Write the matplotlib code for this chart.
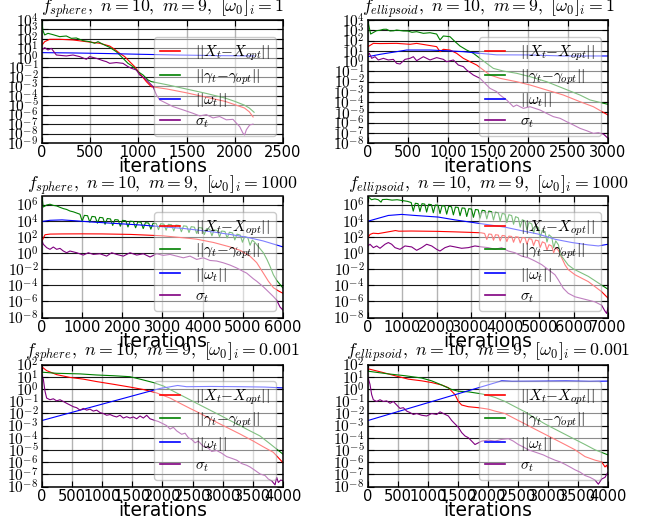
import numpy as np
import matplotlib
matplotlib.use("Agg")
import matplotlib.pyplot as plt
from matplotlib.ticker import LogLocator, NullLocator, FixedLocator, FuncFormatter

plt.rcParams['mathtext.fontset'] = 'cm'
plt.rcParams['font.family'] = ['DejaVu Sans']

# ---------------- data: (iteration, log10 value) ----------------
# Panel 1: f_sphere, [w0]_i = 1
p1_err_x = [(0,1.36),(28,1.71),(80,1.96),(183,1.96),(322,1.89),(460,1.71),(598,1.54),(702,1.25),(754,0.9),
            (806,0.48),(858,0.13),(909,-0.4),(961,-0.93),(1013,-1.63),(1082,-2.51),(1134,-3.05),(1200,-3.15),
            (1300,-3.3),(1500,-3.7),(1700,-4.15),(1900,-4.6),(2000,-4.95),(2100,-5.3),(2150,-5.7),(2190,-6.25)]
p1_err_g = [(0,3.72),(10,2.87),(28,2.42),(62,2.59),(114,2.45),(183,2.24),(252,2.31),(304,2.06),(356,2.1),
            (425,1.82),(494,1.71),(546,1.54),(581,1.71),(633,1.43),(702,1.11),(771,0.65),(823,0.13),(858,-0.23),
            (892,-0.58),(944,-0.93),(996,-1.46),(1048,-1.81),(1100,-2.34),(1134,-2.51),(1300,-2.85),(1500,-3.3),
            (1700,-3.75),(1900,-4.25),(2000,-4.6),(2100,-5.0),(2150,-5.3),(2200,-5.75)]
p1_omega = [(0,0.55),(300,0.52),(700,0.45),(1000,0.38),(1400,0.3),(1800,0.24),(2200,0.2)]
p1_sigma = [(0,0.83),(28,1.08),(62,0.83),(97,1.0),(149,0.3),(252,0.2),(322,0.3),(391,0.13),(460,-0.15),
            (494,0.13),(564,-0.05),(633,-0.3),(667,-0.4),(702,-0.58),(771,-0.5),(840,-0.58),(892,-0.93),
            (927,-1.1),(979,-1.28),(1013,-1.8),(1065,-2.16),(1100,-2.5),(1152,-3.04),(1186,-3.9),(1221,-4.45),
            (1290,-4.8),(1359,-5.15),(1463,-5.5),(1566,-5.86),(1636,-6.14),(1705,-6.0),(1774,-6.35),(1843,-6.2),
            (1912,-6.55),(1981,-6.5),(2016,-6.9),(2051,-7.27),(2085,-7.97),(2102,-8.15),(2120,-7.6),(2154,-7.1),
            (2189,-7.0)]

# Panel 2: f_ellipsoid, [w0]_i = 1
p2_err_x = [(0,1.4),(67,1.72),(150,1.7),(358,1.72),(525,1.63),(608,1.72),(733,1.56),(858,1.4),(900,0.91),
            (942,1.14),(1025,1.07),(1108,0.75),(1192,0.26),(1275,-0.07),(1358,-0.39),(1442,-0.88),(1525,-1.37),
            (1650,-1.69),(1858,-2.02),(2025,-2.34),(2233,-2.83),(2442,-3.32),(2650,-3.97),(2817,-4.46),(3000,-5.27)]
p2_err_g = [(0,3.84),(33,2.63),(108,2.96),(150,3.0),(192,3.09),(230,3.1),(275,2.93),(320,2.95),(358,3.02),
            (442,2.93),(500,2.92),(550,2.8),(608,2.86),(692,2.7),(775,2.76),(858,2.63),(900,2.05),(942,2.44),
            (1025,2.37),(1088,1.89),(1150,1.46),(1233,1.07),(1317,0.75),(1400,0.26),(1483,-0.23),(1567,-0.72),
            (1692,-0.98),(1858,-1.2),(2025,-1.53),(2233,-2.02),(2442,-2.67),(2650,-3.32),(2775,-3.8),(3000,-4.23)]
p2_omega = [(0,0.42),(150,0.65),(358,0.91),(483,1.07),(775,1.07),(983,1.0),(1192,0.91),(1400,0.75),
            (1608,0.6),(2025,0.59),(2442,0.49),(3000,0.49)]
p2_sigma = [(0,0.59),(17,0.75),(46,0.26),(88,0.42),(129,0.1),(192,0.26),(254,0.1),(317,0.16),(358,-0.23),
            (400,-0.29),(463,0.16),(525,0.26),(567,0.42),(608,0.03),(692,0.42),(775,0.1),(858,0.33),(942,0.16),
            (983,-0.07),(1067,0.1),(1129,-0.39),(1192,-0.55),(1233,-0.88),(1317,-1.37),(1400,-1.69),(1483,-2.34),
            (1525,-2.67),(1608,-2.99),(1650,-3.32),(1733,-3.8),(1817,-4.46),(1858,-4.29),(1942,-4.62),(2025,-4.46),
            (2150,-4.78),(2233,-5.11),(2317,-5.43),(2400,-5.59),(2483,-5.92),(2567,-6.24),(2650,-6.57),(2733,-6.8),
            (2817,-7.06),(2879,-6.99),(2942,-7.12),(3000,-7.54)]

# Panel 3: f_sphere, [w0]_i = 1000
p3_err_x = [(0,1.5),(40,1.9),(75,2.26),(200,2.34),(500,2.36),(1000,2.37),(1500,2.36),(2200,2.3),(3000,2.13),
            (3440,1.92),(3850,1.71),(4270,1.3),(4680,0.75),(4930,0.33),(5180,-0.4),(5345,-1.2),(5511,-2.5),
            (5636,-3.5),(5760,-4.3),(5885,-4.7),(6000,-5.0)]
p3_err_g = [(0,6.9),(33,5.7),(120,5.95),(200,6.04),(280,5.9),(365,5.83),(450,5.65),(531,5.5),(610,5.4),
            (697,5.2),(780,5.1),(863,4.95),(946,4.8),
            (1000,3.95),(1055,4.66),(1135,4.62),(1190,3.82),(1245,4.53),(1325,4.48),(1380,3.69),(1435,4.41),
            (1515,4.36),(1570,3.55),(1625,4.27),(1705,4.22),(1760,3.41),(1815,4.13),(1895,4.1),(1950,3.31),
            (2005,4.04),(2085,4.0),(2140,3.22),(2195,3.94),(2275,3.9),(2330,3.12),(2385,3.85),(2465,3.81),
            (2520,3.02),(2575,3.75),(2655,3.71),(2710,2.95),(2765,3.68),(2845,3.65),(2900,2.89),(2955,3.62),
            (3035,3.58),(3090,2.82),(3145,3.55),(3225,3.5),(3280,2.73),(3335,3.46),(3415,3.41),(3470,2.63),
            (3525,3.36),(3605,3.31),(3660,2.53),(3715,3.26),(3795,3.2),(3850,2.43),(3905,3.15),(3985,3.1),
            (4040,2.28),(4095,3.0),(4175,2.94),(4230,2.13),(4285,2.85),(4365,2.8),(4420,2.0),(4475,2.72),
            (4555,2.66),(4610,1.85),(4665,2.57),(4745,2.48),(4800,1.62),(4855,2.33),(4935,2.22),(4990,1.33),
            (5045,2.02),(5125,1.88),(5180,0.95),(5235,1.6),(5300,1.3),(5400,0.7),(5511,0.03),(5600,-0.8),
            (5677,-1.65),(5760,-2.7),(5843,-3.4),(5926,-3.9),(6000,-4.35)]
p3_omega = [(0,3.9),(200,4.05),(500,4.1),(800,4.0),(1200,3.85),(1700,3.7),(2500,3.45),(3000,3.25),
            (3500,3.05),(3850,2.85),(4270,2.6),(4680,2.3),(5100,1.95),(5500,1.5),(5800,1.05),(6000,0.75)]
p3_sigma = [(0,1.5),(33,1.08),(75,0.87),(116,0.66),(199,0.45),(282,0.74),(365,0.45),(448,0.57),(531,0.24),
            (614,0.03),(697,0.24),(863,0.03),(1029,-0.26),(1154,0.03),(1278,-0.18),(1444,-0.1),(1610,-0.39),
            (1735,0.03),(1859,-0.18),(2025,-0.39),(2191,0.03),(2357,-0.26),(2523,-0.1),(2689,-0.5),(2855,-0.1),
            (3021,-0.3),(3187,-0.18),(3353,-0.39),(3519,-0.6),(3685,-0.39),(3851,-0.8),(4017,-0.6),(4183,-0.93),
            (4349,-1.0),(4515,-1.22),(4681,-1.5),(4847,-1.86),(5013,-2.3),(5096,-2.5),(5262,-3.2),(5345,-3.5),
            (5511,-4.2),(5636,-4.8),(5760,-5.4),(5843,-5.85),(5926,-6.7),(6000,-7.1)]

# Panel 4: f_ellipsoid, [w0]_i = 1000
p4_err_x = [(0,1.92),(60,2.3),(150,2.45),(300,2.4),(500,2.55),(700,2.7),(800,2.78),(900,2.7),(1265,2.72),
            (2000,2.68),(2500,2.62),(3000,2.55),(3300,2.5),(3400,2.42),
            (3465,1.67),(3525,2.35),(3605,2.31),(3660,1.58),(3720,2.26),(3800,2.22),(3855,1.49),(3915,2.17),
            (3995,2.13),(4050,1.41),(4110,2.09),(4190,2.05),(4245,1.33),(4305,2.01),(4385,1.97),(4440,1.24),
            (4500,1.92),(4580,1.86),(4635,1.1),(4695,1.78),(4775,1.7),(4830,0.92),(4890,1.6),(4970,1.5),
            (5025,0.7),(5085,1.38),(5165,1.22),(5220,0.37),(5280,1.03),(5360,0.85),(5415,0.02),(5475,0.68),
            (5555,0.3),(5650,-0.6),(5750,-1.5),(5841,-2.07),(6036,-2.7),(6425,-3.55),(6814,-4.8),(7000,-5.6)]
p4_err_g = [(0,6.75),(40,6.85),(100,6.6),(200,6.7),(300,6.6),(380,6.3),(420,6.62),(550,6.65),(700,6.55),
            (850,6.6),(1000,6.5),(1150,6.4),(1260,6.25),
            (1320,5.19),(1380,6.16),(1460,6.11),(1515,5.14),(1575,6.11),(1655,6.06),(1710,5.07),(1770,6.04),
            (1850,5.99),(1905,4.98),(1965,5.95),(2045,5.9),(2100,4.89),(2160,5.86),(2240,5.81),(2295,4.81),
            (2355,5.78),(2435,5.73),(2490,4.72),(2550,5.69),(2630,5.64),(2685,4.62),(2745,5.59),(2825,5.54),
            (2880,4.52),(2940,5.49),(3020,5.44),(3075,4.42),(3135,5.39),(3215,5.34),(3270,4.32),(3330,5.29),
            (3410,5.24),(3465,4.22),(3525,5.19),(3605,5.12),(3660,4.08),(3720,5.05),(3800,4.97),(3855,3.93),
            (3915,4.9),(3995,4.82),(4050,3.77),(4110,4.74),(4190,4.64),(4245,3.56),(4305,4.5),(4385,4.35),
            (4440,3.2),(4500,4.12),(4580,3.97),(4635,2.85),(4695,3.78),(4775,3.6),(4830,2.45),(4890,3.38),
            (4970,3.15),(5025,1.92),(5085,2.85),(5165,2.6),(5220,1.35),(5280,2.25),(5360,1.95),(5415,0.65),
            (5475,1.5),(5555,1.0),(5610,-0.2),(5700,-0.7),(5841,-1.5),(6000,-2.0),(6425,-2.9),(7000,-4.5)]
p4_omega = [(0,3.94),(593,4.65),(982,4.78),(1371,4.65),(2051,4.45),(2537,4.1),(3023,3.8),(3509,3.5),
            (3995,3.2),(4481,2.76),(4967,2.34),(5453,1.7),(5939,1.3),(6425,1.0),(6717,0.87),(7000,1.08)]
p4_sigma = [(0,0.87),(58,1.08),(156,0.66),(253,0.87),(350,0.58),(496,1.08),(593,1.29),(690,1.08),(787,0.66),
            (933,0.45),(1079,0.87),(1273,0.75),(1419,0.33),(1565,0.66),(1711,1.08),(1857,0.87),(2002,0.45),
            (2100,0.24),(2245,0.66),(2391,0.87),(2537,0.75),(2731,0.58),(2926,0.66),(3120,0.87),(3315,0.75),
            (3509,0.66),(3703,0.45),(3898,0.66),(4092,0.24),(4287,0.03),(4481,-0.39),(4675,-0.6),(4870,-1.0),
            (5064,-1.44),(5259,-2.07),(5453,-2.7),(5550,-3.33),(5696,-4.38),(5841,-5.0),(6036,-5.43),
            (6231,-5.64),(6425,-5.85),(6619,-6.06),(6814,-6.48),(6911,-7.2),(6960,-7.5),(7000,-6.8)]

# Panel 5: f_sphere, [w0]_i = 0.001
p5_err_x = [(0,1.8),(77,1.5),(243,1.17),(465,0.94),(686,0.8),(907,0.6),(1184,0.38),(1461,0.15),(1682,-0.05),
            (1903,-0.33),(2125,-0.75),(2291,-1.18),(2457,-1.6),(2623,-2.0),(2844,-2.6),(3065,-3.15),(3287,-3.7),
            (3508,-4.28),(3674,-4.75),(3840,-5.2),(4000,-6.05)]
p5_err_g = [(0,1.37),(243,1.28),(631,1.23),(907,1.14),(1184,1.08),(1461,1.0),(1627,0.8),(1848,0.52),
            (2014,0.24),(2125,-0.05),(2235,-0.33),(2401,-0.75),(2567,-1.18),(2733,-1.6),(2955,-2.16),
            (3176,-2.73),(3397,-3.3),(3619,-3.86),(3785,-4.5),(4000,-5.35)]
p5_omega = [(0,-2.59),(1960,0.04),(2100,0.15),(2250,0.28),(2400,0.18),(2800,0.2),(3300,0.18),(3700,0.15),
            (4000,0.08)]
p5_sigma = [(0,1.08),(22,0.8),(50,-0.19),(77,-0.75),(133,-0.89),(188,-0.81),(243,-0.98),(299,-0.89),
            (354,-1.03),(409,-1.18),(465,-1.32),(520,-1.46),(575,-1.54),(631,-1.74),(686,-1.6),(741,-1.74),
            (797,-1.66),(852,-1.82),(907,-1.74),(963,-1.94),(1018,-2.02),(1073,-2.16),(1129,-2.1),(1184,-2.22),
            (1239,-2.3),(1295,-2.16),(1350,-2.39),(1405,-2.28),(1461,-2.39),(1516,-2.3),(1571,-2.45),(1627,-2.22),
            (1682,-2.39),(1737,-2.16),(1793,-2.45),(1876,-2.59),(1931,-2.67),(2014,-2.87),(2069,-3.01),
            (2125,-3.29),(2180,-3.15),(2235,-3.44),(2318,-3.72),(2374,-3.63),(2429,-4.0),(2484,-4.14),
            (2540,-4.42),(2595,-4.28),(2678,-4.71),(2761,-4.85),(2816,-5.13),(2899,-5.05),(2982,-5.27),
            (3065,-5.55),(3148,-5.69),(3231,-5.84),(3314,-6.12),(3397,-6.26),(3453,-6.4),(3536,-6.68),
            (3619,-6.97),(3702,-7.1),(3757,-7.39),(3812,-7.53),(3868,-7.87),(3895,-7.25),(3923,-7.67),
            (3962,-7.47),(4000,-7.53)]

# Panel 6: f_ellipsoid, [w0]_i = 0.001
p6_err_x = [(0,1.65),(228,1.37),(450,1.08),(672,0.8),(895,0.66),(1061,0.52),(1228,0.32),(1339,0.1),
            (1450,-0.47),(1506,-1.03),(1561,-1.32),(1672,-1.46),(1839,-1.54),(2006,-1.66),(2117,-1.82),
            (2283,-2.02),(2450,-2.45),(2617,-2.87),(2783,-3.3),(2950,-3.72),(3117,-4.14),(3283,-4.56),
            (3450,-4.99),(3617,-5.55),(3783,-5.84),(3895,-5.98),(3950,-6.4),(3978,-6.25),(4000,-6.54)]
p6_err_g = [(0,1.45),(339,1.23),(617,1.08),(895,0.89),(1061,0.66),(1228,0.32),(1395,-0.05),(1506,-0.19),
            (1672,-0.24),(1895,-0.41),(2006,-0.53),(2117,-0.7),(2283,-1.03),(2450,-1.46),(2617,-1.88),
            (2783,-2.39),(2950,-2.87),(3117,-3.3),(3283,-3.72),(3450,-4.14),(3617,-4.56),(3783,-4.99),(4000,-5.41)]
p6_omega = [(0,-2.59),(2228,0.66),(2400,0.62),(2800,0.63),(3300,0.65),(3700,0.62),(4000,0.64)]
p6_sigma = [(0,0.94),(33,0.38),(61,-0.47),(89,-0.89),(144,-1.03),(200,-0.89),(256,-1.03),(311,-0.98),
            (367,-1.18),(422,-1.03),(478,-1.32),(533,-1.6),(589,-1.54),(645,-1.82),(700,-1.94),(756,-2.1),
            (811,-2.02),(895,-2.16),(978,-2.22),(1061,-2.02),(1145,-2.1),(1200,-1.88),(1256,-2.02),(1339,-2.22),
            (1395,-2.59),(1450,-2.87),(1506,-3.15),(1561,-3.58),(1617,-3.86),(1672,-4.0),(1728,-4.28),
            (1783,-4.56),(1839,-4.42),(1895,-4.28),(2006,-4.2),(2117,-4.28),(2228,-4.14),(2339,-4.08),
            (2422,-4.28),(2506,-4.56),(2589,-4.76),(2672,-4.99),(2756,-5.13),(2839,-5.27),(2922,-5.41),
            (3006,-5.61),(3117,-5.84),(3200,-5.98),(3283,-6.18),(3367,-6.4),(3450,-6.63),(3533,-6.82),
            (3617,-7.1),(3700,-7.25),(3783,-7.47),(3839,-7.81),(3895,-7.39),(3950,-7.25),(4000,-6.82)]

legend_labels = [r'$||X_t{-}X_{opt}||$', r'$||\gamma_t{-}\gamma_{opt}||$', r'$||\omega_t||$', r'$\sigma_t$']
line_colors = ['red', 'green', 'blue', 'purple']

titles = [r'$f_{sphere},\ n=10,\ m=9,\ [\omega_0]_i=1$',
          r'$f_{ellipsoid},\ n=10,\ m=9,\ [\omega_0]_i=1$',
          r'$f_{sphere},\ n=10,\ m=9,\ [\omega_0]_i=1000$',
          r'$f_{ellipsoid},\ n=10,\ m=9,\ [\omega_0]_i=1000$',
          r'$f_{sphere},\ n=10,\ m=9,\ [\omega_0]_i=0.001$',
          r'$f_{ellipsoid},\ n=10,\ m=9,\ [\omega_0]_i=0.001$']
x_max = [2500, 3000, 6000, 7000, 4000, 4000]
x_step = [500, 500, 1000, 1000, 500, 500]
y_exp_range = [(-9, 4), (-8, 4), (-8, 7), (-8, 7), (-8, 2), (-8, 2)]
y_tick_step = [1, 1, 2, 2, 1, 1]

panels = [
    (p1_err_x, p1_err_g, p1_omega, p1_sigma),
    (p2_err_x, p2_err_g, p2_omega, p2_sigma),
    (p3_err_x, p3_err_g, p3_omega, p3_sigma),
    (p4_err_x, p4_err_g, p4_omega, p4_sigma),
    (p5_err_x, p5_err_g, p5_omega, p5_sigma),
    (p6_err_x, p6_err_g, p6_omega, p6_sigma),
]

# ---------------- layout (pixel boxes: left, top, right, bottom) ----------------
W, H = 646, 521
boxes = [(42, 20, 283, 143), (368, 20, 608, 143),
         (42, 196.5, 283, 317.5), (368, 196.5, 608, 317.5),
         (42, 364.5, 283, 486.5), (368, 364.5, 608, 486.5)]
title_pads = [0.0, 0.0, 4.5, 4.5, 2.0, 2.0]


def pow10_label(v, pos):
    return r'$10^{%d}$' % int(round(np.log10(v)))


fig = plt.figure(figsize=(W / 100, H / 100), dpi=100)

for i, series in enumerate(panels):
    l, t, r, b = boxes[i]
    ax = fig.add_axes([l / W, 1 - b / H, (r - l) / W, (b - t) / H])
    handles = []
    for s, c in zip(series, line_colors):
        xs = [p[0] for p in s]
        ys = 10.0 ** np.array([p[1] for p in s])
        h, = ax.plot(xs, ys, color=c, lw=0.8)
        handles.append(h)
    ax.set_yscale('log')
    lo, hi = y_exp_range[i]
    ax.set_ylim(10.0 ** lo, 10.0 ** hi)
    ax.set_xlim(0, x_max[i])
    ax.set_xticks(np.arange(0, x_max[i] + 1, x_step[i]))
    ax.yaxis.set_major_locator(FixedLocator([10.0 ** k for k in range(lo, hi + 1, y_tick_step[i])]))
    ax.yaxis.set_major_formatter(FuncFormatter(pow10_label))
    if i >= 4:
        ax.yaxis.set_minor_locator(LogLocator(base=10, subs=np.arange(2, 10)))
        ax.grid(True, which='minor', axis='y', color='0.58', lw=0.7)
    else:
        ax.yaxis.set_minor_locator(NullLocator())
    ax.grid(True, which='major', axis='y', color='0.1', lw=0.8)
    ax.grid(True, which='major', axis='x', color='0.7', lw=1.0)
    ax.set_axisbelow(True)
    ax.tick_params(which='both', direction='in', top=True, right=True)
    ax.tick_params(axis='x', labelsize=10.5, pad=1.5)
    ax.tick_params(axis='y', labelsize=11, pad=2.5)
    ax.tick_params(which='major', length=4)
    ax.tick_params(which='minor', length=2)
    for sp in ax.spines.values():
        sp.set_linewidth(1.1)
    ax.set_xlabel('iterations', fontsize=13.5, labelpad=-2)
    ax.set_title(titles[i], fontsize=12.8, pad=title_pads[i])
    leg = ax.legend(handles, legend_labels, loc='lower right', fontsize=11, fancybox=True,
                    framealpha=0.5, edgecolor='0.6', handlelength=1.3, handletextpad=1.0,
                    labelspacing=0.28, borderpad=0.4, borderaxespad=0.45)
    for lh in leg.get_lines():
        lh.set_linewidth(1.2)

fig.savefig('out.png', dpi=100)
